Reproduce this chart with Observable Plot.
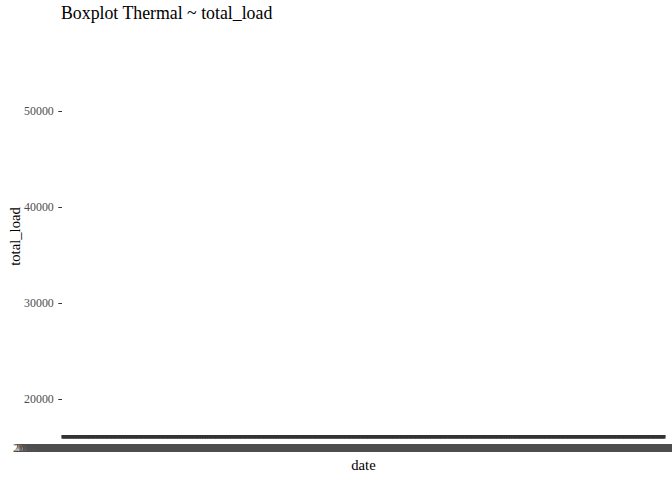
<!DOCTYPE html>
<html>
<head>
<meta charset="utf-8">
<script src="https://cdn.jsdelivr.net/npm/d3@7"></script>
<script src="https://cdn.jsdelivr.net/npm/@observablehq/plot@0.6"></script>
<style>
  html, body { margin: 0; padding: 0; background: #ffffff; }
  #wrap { width: 672px; height: 480px; overflow: hidden; position: relative; background: #fff; }
  #title { height: 28px; box-sizing: border-box; padding-top: 5px; padding-left: 61px;
           font-family: "Liberation Serif", "DejaVu Serif", serif; font-size: 17.8px; line-height: 17.6px; color: #000; white-space: nowrap; }
</style>
</head>
<body>
<div id="wrap">
  <div id="title">Boxplot Thermal ~ total_load</div>
  <div id="chart"></div>
</div>
<script>
// ---- data ----
const titleText = "Boxplot Thermal ~ total_load";
const xLabel = "date";
const yLabel = "total_load";
// one box per day; all boxes collapse into a thin band near 16,000
const dates = d3.utcDay.range(new Date(Date.UTC(2019, 0, 1)), new Date(Date.UTC(2020, 0, 1)));
const dateLabels = dates.map(d => d3.utcFormat("%Y-%m-%d %H:%M:%S")(d));
const boxLow = 15870;   // lower whisker end (approx.)
const boxHigh = 16250;  // upper whisker end (approx.)
const yTicks = [20000, 30000, 40000, 50000];
const yDomain = [15625, 58229];

const table = dateLabels.map(label => ({date: label, lo: boxLow, hi: boxHigh}));

const W = 672, H = 452;
const mL = 62, mR = 7, mT = 4, mB = 39;
const serif = "'Liberation Serif', 'DejaVu Serif', serif";

const chart = Plot.plot({
  width: W, height: H,
  marginLeft: mL, marginRight: mR, marginTop: mT, marginBottom: mB,
  style: {background: "#ffffff", fontFamily: serif, fontSize: "11.9px", overflow: "visible"},
  x: {type: "band", domain: dateLabels, padding: 0, label: null},
  y: {domain: yDomain, label: null},
  marks: [
    Plot.barY(table, {x: "date", y1: "lo", y2: "hi", fill: "#333333", insetLeft: -0.6, insetRight: -0.6}),
    Plot.axisY({ticks: yTicks, tickSize: 3.7, tickPadding: 5, tickFormat: d => String(d), label: null, color: "#4d4d4d"}),
    Plot.axisX({tickSize: 0, tickPadding: 2, label: null, color: "#4d4d4d"})
  ]
});

document.getElementById("chart").appendChild(chart);

const svg = d3.select(chart);
svg.selectAll("[aria-label='y-axis tick'] path, [aria-label='y-axis tick'] line").attr("stroke", "#333333");

// axis titles
svg.append("text")
  .attr("x", mL + (W - mL - mR) / 2)
  .attr("y", 442)
  .attr("text-anchor", "middle")
  .style("font-family", serif)
  .style("font-size", "14.67px")
  .attr("fill", "#000")
  .text(xLabel);

svg.append("text")
  .attr("transform", `translate(19.5, ${mT + (H - mT - mB) / 2}) rotate(-90)`)
  .attr("text-anchor", "middle")
  .style("font-family", serif)
  .style("font-size", "14.67px")
  .attr("fill", "#000")
  .text(yLabel);
</script>
</body>
</html>
